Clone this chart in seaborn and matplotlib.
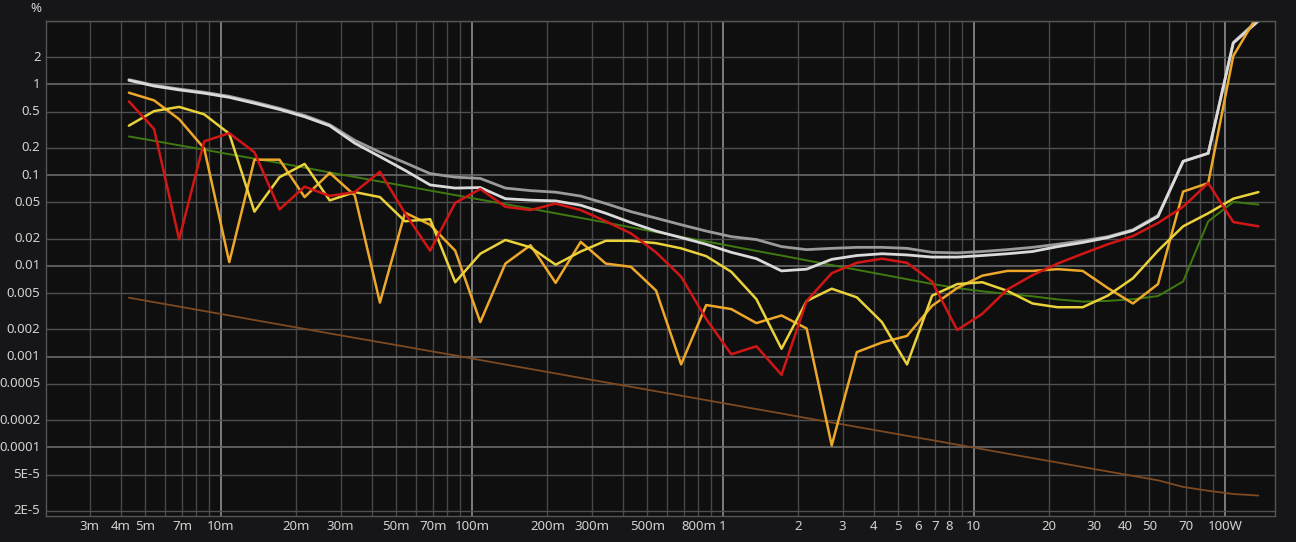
import matplotlib
matplotlib.use('Agg')
import matplotlib.pyplot as plt
import seaborn as sns
import pandas as pd

# output power steps (W)
power = [0.004305, 0.00542, 0.006823, 0.008589, 0.01081, 0.01361, 0.01714, 0.02158, 0.02716, 0.03419,
         0.04305, 0.0542, 0.06823, 0.08589, 0.1081, 0.1361, 0.1714, 0.2158, 0.2716, 0.3419,
         0.4305, 0.542, 0.6823, 0.8589, 1.081, 1.361, 1.714, 2.158, 2.716, 3.419,
         4.305, 5.42, 6.823, 8.589, 10.81, 13.61, 17.14, 21.58, 27.16, 34.19,
         43.05, 54.2, 68.23, 85.89, 108.1, 136.1]

# distortion in %
thd_gray = [1.13, 0.98, 0.89, 0.82, 0.74, 0.64, 0.545, 0.455, 0.36, 0.242,
            0.179, 0.137, 0.104, 0.095, 0.092, 0.072, 0.0675, 0.0649, 0.0588, 0.0486,
            0.0396, 0.0336, 0.0284, 0.0242, 0.0210, 0.0195, 0.0163, 0.0151, 0.0156, 0.0160,
            0.0160, 0.0156, 0.0141, 0.0139, 0.0144, 0.0151, 0.0160, 0.0173, 0.0189, 0.0210,
            0.0250, 0.036, 0.142, 0.174, 2.9, 5.2]
thd_white = [1.11, 0.96, 0.87, 0.80, 0.72, 0.62, 0.53, 0.44, 0.35, 0.225,
             0.160, 0.113, 0.078, 0.072, 0.073, 0.055, 0.053, 0.052, 0.0466, 0.038,
             0.030, 0.0242, 0.0205, 0.0173, 0.0141, 0.0120, 0.0088, 0.0092, 0.0118, 0.0130,
             0.0136, 0.0132, 0.0125, 0.0125, 0.0130, 0.0136, 0.0144, 0.0163, 0.0181, 0.0205,
             0.0245, 0.035, 0.142, 0.174, 2.86, 5.0]
h2_red = [0.65, 0.323, 0.0196, 0.236, 0.29, 0.179, 0.0419, 0.0746, 0.059, 0.065,
          0.109, 0.038, 0.0147, 0.0494, 0.0704, 0.0448, 0.0412, 0.0486, 0.0412, 0.031,
          0.0228, 0.0141, 0.0076, 0.0026, 0.00106, 0.0013, 0.00063, 0.0041, 0.0083, 0.0108,
          0.0120, 0.0108, 0.0067, 0.00196, 0.00296, 0.0055, 0.0079, 0.0106, 0.0136, 0.0173,
          0.0213, 0.0297, 0.0448, 0.0817, 0.0304, 0.0273]
h3_orange = [0.81, 0.667, 0.414, 0.197, 0.011, 0.148, 0.148, 0.0573, 0.106, 0.0597,
             0.00394, 0.0386, 0.0284, 0.0147, 0.0024, 0.0106, 0.0169, 0.0065, 0.0184, 0.0106,
             0.00976, 0.00535, 0.00082, 0.0037, 0.00334, 0.00234, 0.00284, 0.00204, 0.000105, 0.00112,
             0.00143, 0.00169, 0.00363, 0.0057, 0.0078, 0.0088, 0.0088, 0.0092, 0.0088, 0.0057,
             0.00385, 0.0063, 0.0659, 0.0817, 2.06, 6.0]
h4_yellow = [0.351, 0.508, 0.565, 0.468, 0.286, 0.0396, 0.095, 0.133, 0.0527, 0.065,
             0.0573, 0.031, 0.0327, 0.0066, 0.0136, 0.0193, 0.016, 0.0103, 0.0144, 0.0189,
             0.0189, 0.0178, 0.0156, 0.0128, 0.0086, 0.0043, 0.00122, 0.0041, 0.0056, 0.0045,
             0.0024, 0.00082, 0.0047, 0.0063, 0.0066, 0.0053, 0.00385, 0.0035, 0.0035, 0.0047,
             0.0073, 0.0147, 0.0273, 0.038, 0.055, 0.065]
h5_green = [0.267, 0.239, 0.213, 0.191, 0.170, 0.152, 0.136, 0.121, 0.107, 0.0955,
            0.0851, 0.0759, 0.0676, 0.0603, 0.0537, 0.0479, 0.0427, 0.0380, 0.0338, 0.0300,
            0.0266, 0.0236, 0.0209, 0.0186, 0.0165, 0.0146, 0.0130, 0.0115, 0.0102, 0.00906,
            0.00804, 0.00713, 0.00632, 0.00569, 0.00525, 0.0049, 0.00462, 0.00427, 0.00404, 0.00411,
            0.00429, 0.00465, 0.00673, 0.0309, 0.0507, 0.0474]
noise_brown = [0.00446, 0.00398, 0.00356, 0.00318, 0.00284, 0.00253, 0.00226, 0.00202, 0.00180, 0.00161,
               0.00144, 0.00129, 0.00115, 0.00103, 0.000916, 0.000817, 0.000730, 0.000652, 0.000582, 0.000520,
               0.000465, 0.000415, 0.000371, 0.000331, 0.000296, 0.000264, 0.000236, 0.000210, 0.000188, 0.000168,
               0.000150, 0.000134, 0.000120, 0.000107, 0.0000955, 0.0000852, 0.0000761, 0.0000680, 0.0000607, 0.0000542,
               0.0000484, 0.0000433, 0.0000366, 0.0000332, 0.0000306, 0.0000294]

x_tick_vals = [0.003, 0.004, 0.005, 0.007, 0.01, 0.02, 0.03, 0.05, 0.07, 0.1, 0.2, 0.3, 0.5, 0.8,
               1, 2, 3, 4, 5, 6, 7, 8, 10, 20, 30, 40, 50, 70, 100]
x_tick_text = ['3m', '4m', '5m', '7m', '10m', '20m', '30m', '50m', '70m', '100m', '200m', '300m', '500m', '800m',
               '1', '2', '3', '4', '5', '6', '7', '8', '10', '20', '30', '40', '50', '70', '100W']
y_tick_vals = [2, 1, 0.5, 0.2, 0.1, 0.05, 0.02, 0.01, 0.005, 0.002, 0.001, 0.0005, 0.0002, 0.0001, 5e-5, 2e-5]
y_tick_text = ['2', '1', '0.5', '0.2', '0.1', '0.05', '0.02', '0.01', '0.005', '0.002', '0.001',
               '0.0005', '0.0002', '0.0001', '5E-5', '2E-5']

sns.set_theme(style='dark')
plt.rcParams['font.family'] = ['Noto Sans', 'DejaVu Sans']

fig = plt.figure(figsize=(12.96, 5.42), dpi=100, facecolor='#161618')
ax = fig.add_axes([46 / 1296, 1 - 516 / 542, (1275 - 46) / 1296, (516 - 21) / 542])
ax.set_facecolor('#0f0f0f')
ax.set_xscale('log')
ax.set_yscale('log')

series = [
    (noise_brown, '#7d4a22', 1.3),
    (h5_green, '#3f7a10', 1.4),
    (thd_gray, '#9a9a9a', 2.0),
    (thd_white, '#dadada', 2.0),
    (h3_orange, '#eda82a', 1.8),
    (h4_yellow, '#ead23a', 1.8),
    (h2_red, '#d21616', 1.8),
]
for vals, col, lw in series:
    df = pd.DataFrame({'power': power, 'thd': vals})
    sns.lineplot(data=df, x='power', y='thd', ax=ax, color=col, linewidth=lw)

ax.set_xlim(0.002012, 158.5)
ax.set_ylim(1.75e-5, 3.58)

# grid: decades brighter
x_major = [0.01, 0.1, 1, 10, 100]
x_minor = [m * d for d in [0.001, 0.01, 0.1, 1, 10, 100] for m in range(2, 10)]
x_minor = [v for v in x_minor if 0.002 < v < 160]
y_major = [1e-4, 1e-3, 1e-2, 1e-1, 1]
y_minor = [m * d for d in [1e-5, 1e-4, 1e-3, 1e-2, 1e-1, 1] for m in (2, 5)]

ax.set_xticks(x_major, labels=[''] * len(x_major))
ax.set_xticks(x_minor, labels=[''] * len(x_minor), minor=True)
ax.set_yticks(y_major, labels=[''] * len(y_major))
ax.set_yticks(y_minor, labels=[''] * len(y_minor), minor=True)
ax.grid(True, which='major', axis='x', color='#8e8e8e', linewidth=1.2)
ax.grid(True, which='minor', axis='x', color='#474747', linewidth=1.0)
ax.grid(True, which='major', axis='y', color='#6a6a6a', linewidth=1.2)
ax.grid(True, which='minor', axis='y', color='#505050', linewidth=1.0)
ax.set_axisbelow(True)
ax.tick_params(which='both', length=0)
ax.set_xlabel('')
ax.set_ylabel('')

for s in ax.spines.values():
    s.set_color('#555555')
    s.set_linewidth(1.0)

# tick labels as text so minor and major can share one list
tc = '#d2d2d2'
for v, t in zip(x_tick_vals, x_tick_text):
    ax.text(v, -0.022, t, transform=ax.get_xaxis_transform(), ha='center', va='center',
            color=tc, fontsize=9.5)
for v, t in zip(y_tick_vals, y_tick_text):
    ax.text(-0.0045, v, t, transform=ax.get_yaxis_transform(), ha='right', va='center',
            color=tc, fontsize=9.5)
fig.text(36 / 1296, 1 - 9 / 542, '%', ha='center', va='center', color=tc, fontsize=9.5)

fig.savefig('out.png', dpi=100, facecolor=fig.get_facecolor())
